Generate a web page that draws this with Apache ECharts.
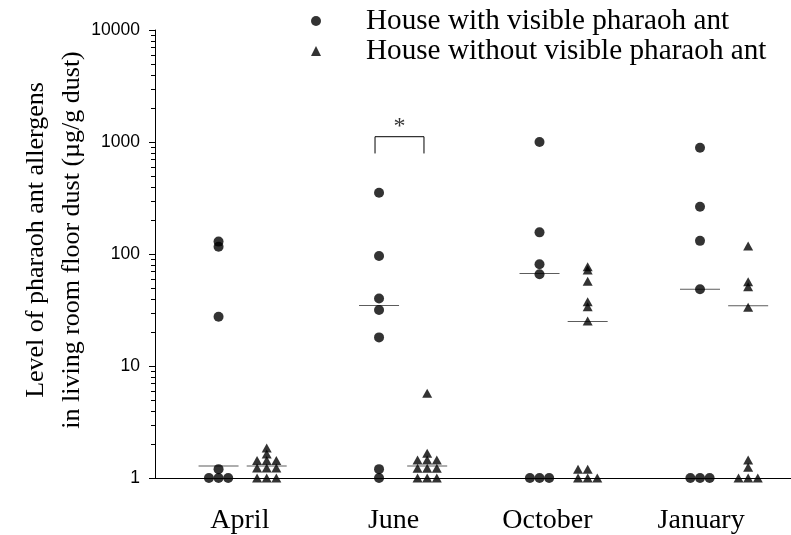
<!DOCTYPE html>
<html>
<head>
<meta charset="utf-8">
<script src="https://cdn.jsdelivr.net/npm/echarts@6/dist/echarts.min.js"></script>
<style>
  html, body { margin: 0; padding: 0; background: #fff; }
  #chart { width: 791px; height: 535px; }
</style>
</head>
<body>
<div id="chart"></div>
<script>
// Sampling months
const categories = ['April', 'June', 'October', 'January'];
const seriesNames = ['House with visible pharaoh ant', 'House without visible pharaoh ant'];

// Allergen level (µg/g dust), houses with visible pharaoh ants
const withAntApril   = [129, 116, 27.5, 1.2, 1, 1, 1];
const withAntJune    = [352, 96, 40, 31.6, 18, 1.2, 1];
const withAntOctober = [1000, 156, 81, 66, 1, 1, 1];
const withAntJanuary = [889, 264, 131, 48.4, 1, 1, 1];

// Allergen level (µg/g dust), houses without visible pharaoh ants
const withoutAntApril   = [1.85, 1.64, 1.43, 1.43, 1.43, 1.23, 1.23, 1.23, 1, 1, 1];
const withoutAntJune    = [5.7, 1.66, 1.45, 1.45, 1.45, 1.22, 1.22, 1.22, 1, 1, 1];
const withoutAntOctober = [77, 72, 57, 37.5, 33.8, 25.2, 1.2, 1.2, 1, 1, 1];
const withoutAntJanuary = [118, 56.5, 51, 33.4, 1.45, 1.25, 1, 1, 1];

// Median level per month
const withAntMedian    = [1.28, 34.6, 67, 48.4];
const withoutAntMedian = [1.28, 1.28, 25, 34.5];

// Significant difference marker (June)
const sigMonthIndex = 1;
const sigLabel = '*';

const withAntByMonth = [withAntApril, withAntJune, withAntOctober, withAntJanuary];
const withoutAntByMonth = [withoutAntApril, withoutAntJune, withoutAntOctober, withoutAntJanuary];

// Layout constants (x in month units)
const X_MIN = -0.546, X_MAX = 3.417;
const SIDE = 0.15;    // column offset from the month centre
const STEP = 0.06;    // spacing between tied points in a row
const SERIF = '"Liberation Serif", "Times New Roman", serif';
const SANS = '"Liberation Sans", Arial, sans-serif';

// Spread tied values side by side, everything else on the column centre
function columnPoints(valuesByMonth, side) {
  const pts = [];
  valuesByMonth.forEach((vals, k) => {
    const counts = {};
    vals.forEach(v => { counts[v] = (counts[v] || 0) + 1; });
    const seen = {};
    vals.forEach(v => {
      const n = counts[v];
      const i = seen[v] = (seen[v] === undefined ? 0 : seen[v] + 1);
      const slot = i - Math.ceil((n - 1) / 2);
      pts.push([k + side * SIDE + slot * STEP, v]);
    });
  });
  return pts;
}

function medianPoints(medians, side) {
  return medians.map((m, k) => [k + side * SIDE, m]);
}

// Minor ticks at 2..9 within each decade
const minorTicks = [];
[1, 10, 100, 1000].forEach(d => { for (let m = 2; m <= 9; m++) minorTicks.push(m * d); });

const bracketLow = 790, bracketHigh = 1115;
const bx0 = sigMonthIndex - 0.175, bx1 = sigMonthIndex + 0.13;

const chart = echarts.init(document.getElementById('chart'), null, { renderer: 'canvas' });

chart.setOption({
  animation: false,
  backgroundColor: '#fff',
  grid: [
    { left: 155, right: 0, top: 30, bottom: 57 },
    { left: 163, right: 13, top: 30, bottom: 57 }
  ],
  legend: {
    data: [
      { name: seriesNames[0], icon: 'circle' },
      { name: seriesNames[1], icon: 'triangle' }
    ],
    orient: 'vertical',
    left: 311,
    top: 6,
    padding: 0,
    itemWidth: 10,
    itemHeight: 10,
    itemGap: 0,
    selectedMode: false,
    textStyle: { fontFamily: SERIF, fontSize: 29.2, color: '#000', lineHeight: 30, padding: [0, 0, 0, 40] }
  },
  xAxis: [
    {
      type: 'value', gridIndex: 0,
      min: X_MIN, max: X_MAX,
      axisLine: { onZero: false, lineStyle: { color: '#000', width: 1 } },
      axisTick: { show: false },
      axisLabel: { show: false },
      splitLine: { show: false }
    },
    {
      type: 'category', gridIndex: 1,
      data: categories,
      axisLine: { show: false, onZero: false },
      axisTick: { show: false },
      axisLabel: { fontFamily: SERIF, fontSize: 28, color: '#000', margin: 30 },
      splitLine: { show: false }
    }
  ],
  yAxis: [
    {
      type: 'log', gridIndex: 0, logBase: 10,
      min: 1, max: 10000,
      position: 'left',
      axisLine: { show: true, onZero: false, lineStyle: { color: '#000', width: 1 } },
      axisTick: { show: true, inside: false, length: 6, lineStyle: { color: '#000' } },
      axisLabel: { fontFamily: SANS, fontSize: 17.5, color: '#000', margin: 15, formatter: v => String(v) },
      splitLine: { show: false }
    },
    {
      type: 'value', gridIndex: 1, show: false
    }
  ],
  graphic: [
    {
      type: 'text',
      x: 54, y: 240,
      rotation: Math.PI / 2,
      style: {
        text: 'Level of pharaoh ant allergens\nin living room floor dust (µg/g dust)',
        font: '26px ' + SERIF,
        fill: '#000',
        align: 'center',
        verticalAlign: 'middle',
        lineHeight: 36
      }
    }
  ],
  series: [
    {
      // short ticks left of the y axis line at 2..9 of each decade
      name: 'minor ticks',
      type: 'custom',
      xAxisIndex: 0, yAxisIndex: 0,
      silent: true,
      clip: false,
      z: 10,
      encode: { x: 0, y: 1 },
      data: minorTicks.map(v => [0, v]),
      renderItem: (params, api) => {
        const p = api.coord([X_MIN, api.value(1)]);
        const y = Math.round(p[1]) + 0.5;
        const x = Math.round(p[0]);
        return {
          type: 'line',
          shape: { x1: x - 4, y1: y, x2: x, y2: y },
          style: { stroke: '#000', lineWidth: 1 }
        };
      }
    },
    {
      name: seriesNames[0],
      type: 'scatter',
      xAxisIndex: 0, yAxisIndex: 0,
      symbol: 'circle',
      symbolSize: 10,
      itemStyle: { color: '#000' },
      data: columnPoints(withAntByMonth, -1)
    },
    {
      name: seriesNames[1],
      type: 'scatter',
      xAxisIndex: 0, yAxisIndex: 0,
      symbol: 'triangle',
      symbolSize: [10, 9],
      itemStyle: { color: '#000' },
      data: columnPoints(withoutAntByMonth, 1)
    },
    {
      name: 'median',
      type: 'scatter',
      xAxisIndex: 0, yAxisIndex: 0,
      symbol: 'rect',
      symbolSize: [40, 1],
      itemStyle: { color: '#333' },
      z: 1,
      data: medianPoints(withAntMedian, -1).concat(medianPoints(withoutAntMedian, 1))
    },
    {
      name: 'significance',
      type: 'line',
      xAxisIndex: 0, yAxisIndex: 0,
      symbol: 'none',
      lineStyle: { color: '#000', width: 1 },
      data: [[bx0, bracketLow], [bx0, bracketHigh], [bx1, bracketHigh], [bx1, bracketLow]]
    },
    {
      name: 'significance label',
      type: 'scatter',
      xAxisIndex: 0, yAxisIndex: 0,
      symbolSize: 0,
      label: {
        show: true, position: 'top', distance: -2,
        formatter: sigLabel,
        fontFamily: SERIF, fontSize: 24, color: '#000'
      },
      data: [[(bx0 + bx1) / 2, bracketHigh]]
    }
  ]
});
</script>
</body>
</html>
